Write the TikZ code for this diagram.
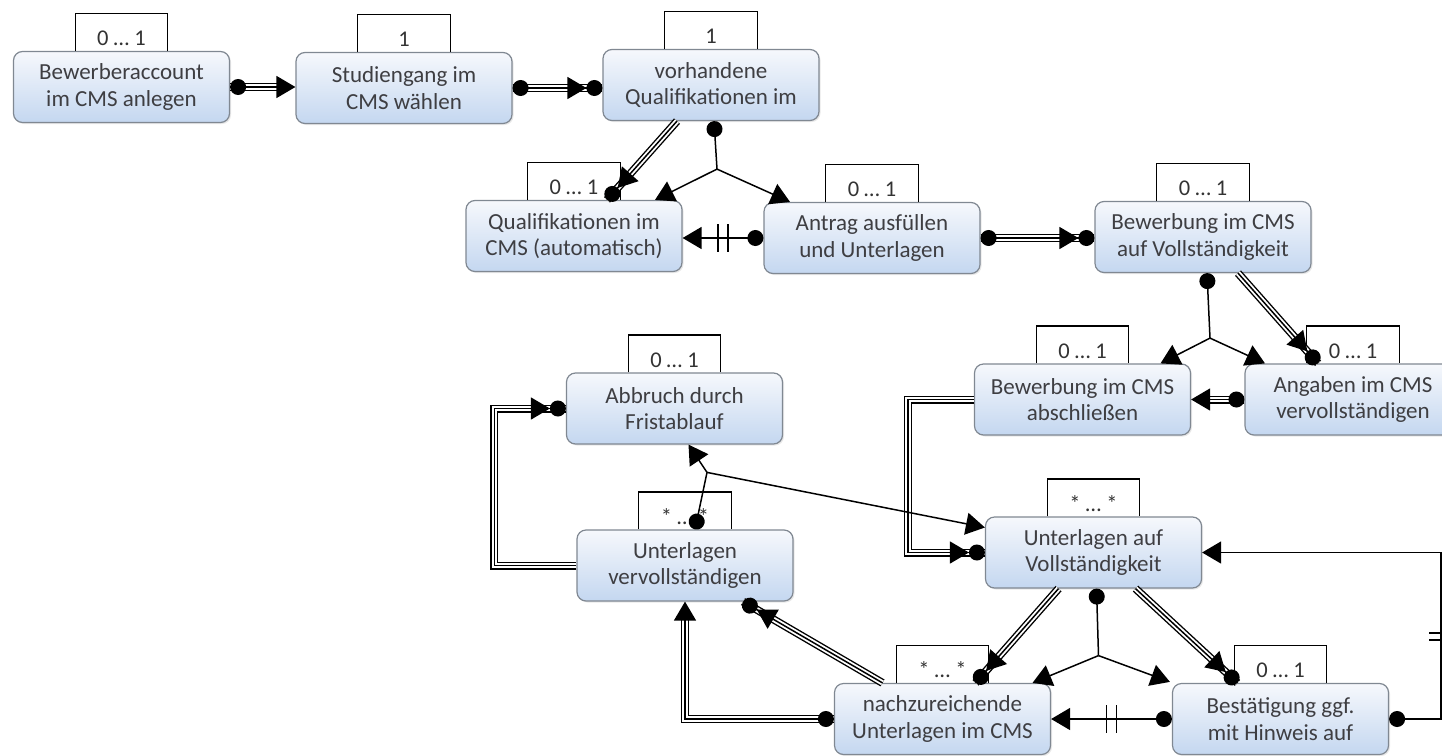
\documentclass[tikz,border=0pt]{standalone}
\usepackage{fontspec}
\setmainfont{Carlito}
\usetikzlibrary{arrows.meta,calc,decorations.markings,shadows}
\definecolor{txtc}{RGB}{62,62,66}
\definecolor{nodetop}{RGB}{246,248,252}
\definecolor{nodebot}{RGB}{196,215,240}
\definecolor{nodeborder}{RGB}{128,136,146}
\tikzset{
  dotT/.tip={Circle[length=16pt]},
  triT/.tip={Triangle[length=19pt,width=22pt]},
  triDotT/.tip={Triangle[length=19pt,width=22pt]Circle[length=16pt]},
  proc/.style={rectangle, rounded corners=9pt, draw=nodeborder, line width=1.2pt,
    top color=nodetop, bottom color=nodebot, minimum width=216pt, minimum height=71pt,
    inner sep=0pt, align=center, text=txtc, font=\fontsize{23}{26.5}\selectfont,
    drop shadow={shadow xshift=1.5pt, shadow yshift=-1.5pt, opacity=0.18}},
  lblbox/.style={minimum width=92pt, minimum height=37pt, inner sep=0pt, anchor=south},
  lblline/.style={draw=black, line width=1.3pt},
  lbltxt/.style={anchor=base, text=black!80, font=\fontsize{22.5}{26}\selectfont, inner sep=0pt},
  conn/.style={draw=black, line width=1.5pt},
  trip/.style={preaction={draw=black, line width=8pt, arrows=-, shorten >=#1,
      postaction={draw=white, line width=5.2pt, arrows=-, shorten >=#1}}},
  trip/.default=0pt,
  ticks/.style={postaction={decorate, decoration={markings,
      mark=at position 0.5 with {\draw[line width=1.5pt, arrows=-] (-5pt,-14pt) -- (-5pt,14pt) (5pt,-14pt) -- (5pt,14pt);}}}}
}
\begin{document}
\begin{tikzpicture}[x=1pt,y=-1pt]
\useasboundingbox (0,0) rectangle (1442,755);
\clip (0,0) rectangle (1442,755);
\fill[white] (0,0) rectangle (1442,755);

% process nodes
\node[proc] (n1) at (121.5,87) {Bewerberaccount\\im CMS anlegen};
\node[proc] (n2) at (404,88) {Studiengang im\\CMS wählen};
\node[proc] (n3) at (711,85) {vorhandene\\Qualifikationen im};
\node[proc] (n4) at (574,236) {Qualifikationen im\\CMS (automatisch)};
\node[proc] (n5) at (872,238) {Antrag ausfüllen\\und Unterlagen};
\node[proc] (n6) at (1203,237) {Bewerbung im CMS\\auf Vollständigkeit};
\node[proc] (n7) at (1082.5,399.5) {Bewerbung im CMS\\abschließen};
\node[proc] (n8) at (1353,399.5) {Angaben im CMS\\vervollständigen};
\node[proc] (n9) at (674.5,408.5) {Abbruch durch\\Fristablauf};
\node[proc] (n10) at (685,565.5) {Unterlagen\\vervollständigen};
\node[proc] (n11) at (1093.5,552.5) {Unterlagen auf\\Vollständigkeit};
\node[proc] (n12) at (942.5,719) {nachzureichende\\Unterlagen im CMS};
\node[proc] (n13) at (1280.5,719) {Bestätigung ggf.\\mit Hinweis auf};

% multiplicity boxes
\foreach \n/\t in {n1/0 … 1, n2/1, n3/1, n4/0 … 1, n5/0 … 1, n6/0 … 1, n7/0 … 1,
                   n8/0 … 1, n9/0 … 1, n10/* … *, n11/* … *, n12/* … *, n13/0 … 1}{
  \node[lblbox] (\n l) at (\n.north) {};
  \draw[lblline] (\n l.south west) |- (\n l.north east) -- (\n l.south east);
  \node[lbltxt] at ([yshift=5pt]\n l.south) {\t};
}

% junction coordinates
\coordinate (j1) at ($(n3.south)+(6,48)$);
\coordinate (j2) at ($(n6.south)+(7,65)$);
\coordinate (k1) at ($(n10.north)+(22,-57)$);
\coordinate (o1) at ($(n11.south)+(5,67)$);
\coordinate (q1) at ($(n13.east)+(52,0)$);

% A, B
\draw[conn, trip=8pt, {dotT}-{triT}] (n1.east) -- (n1.east -| n2.west);
\draw[conn, trip, {dotT}-{triDotT}] (n2.east) -- (n2.east -| n3.west);
% C
\draw[conn, trip, -{triDotT}] ($(n3.south)+(-34,0)$) -- ($(n4.north)+(33,0)$);
% D
\draw[conn, {dotT}-] ($(n3.south)+(3,0)$) -- (j1);
\draw[conn, -{triT}] (j1) -- ($(n4.north)+(81,0)$);
\draw[conn, -{triT}] (j1) -- ($(n5.north)+(-82,0)$);
% E
\draw[conn, ticks, {dotT}-{triT}] (n5.west) -- (n5.west -| n4.east);
% F
\draw[conn, trip, {dotT}-{triDotT}] (n5.east) -- (n5.east -| n6.west);
% G
\draw[conn, {dotT}-] ($(n6.south)+(4,0)$) -- (j2);
\draw[conn, -{triT}] (j2) -- ($(n7.north)+(78,0)$);
\draw[conn, -{triT}] (j2) -- ($(n8.north)+(-88,0)$);
% H
\draw[conn, trip, -{triDotT}] ($(n6.south)+(35,0)$) -- ($(n8.north)+(-35,0)$);
% I
\draw[conn, trip=8pt, {dotT}-{triT}] (n8.west) -- (n8.west -| n7.east);
% J
\draw[conn, trip, -{triDotT}] (n7.west) -- ++(-66,0) |- (n11.west);
% K
\draw[conn, {dotT}-] ($(n10.north)+(10,0)$) -- (k1);
\draw[conn, -{triT}] (k1) -- ($(n9.south)+(14,0)$);
\draw[conn, -{triT}] (k1) -- ($(n11.west)+(0,-25)$);
% L
\draw[conn, trip, -{triDotT}] (n10.west) -- ++(-82,0) |- (n9.west);
% M, N
\draw[conn, trip, -{triDotT}] ($(n11.south)+(-35,0)$) -- ($(n12.north)+(33,0)$);
\draw[conn, trip, -{triDotT}] ($(n11.south)+(42,0)$) -- ($(n13.north)+(-43,0)$);
% O
\draw[conn, {dotT}-] ($(n11.south)+(3,0)$) -- (o1);
\draw[conn, -{triT}] (o1) -- ($(n12.north)+(90,0)$);
\draw[conn, -{triT}] (o1) -- ($(n13.north west)+(-2,-1)$);
% P
\draw[conn, ticks, {dotT}-{triT}] (n13.west) -- (n13.west -| n12.east);
% Q
\draw[conn, {dotT}-{triT}] (n13.east) -- (q1) |- (n11.east);
\draw[conn] ($(q1)+(-12,-86)$) -- ++(24,0);
\draw[conn] ($(q1)+(-12,-79)$) -- ++(24,0);
% R1, R2
\draw[conn, trip, -{triDotT}] ($(n12.north)+(-60,0)$) -- ($(n10.south)+(58,0)$);
\draw[conn, trip=8pt, {dotT}-{triT}] (n12.west) -| (n10.south);
\end{tikzpicture}
\end{document}
